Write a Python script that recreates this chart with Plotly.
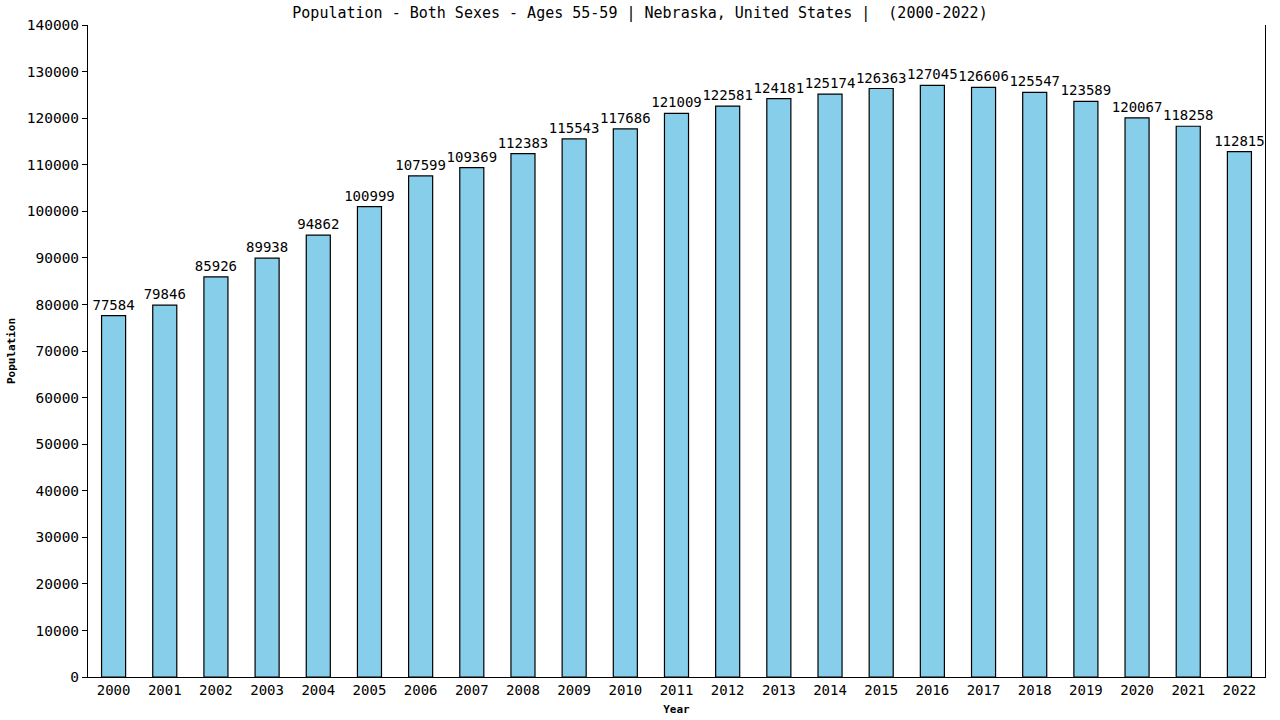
import plotly.graph_objects as go

years = [str(y) for y in range(2000, 2023)]
population = [77584, 79846, 85926, 89938, 94862, 100999, 107599, 109369, 112383, 115543,
              117686, 121009, 122581, 124181, 125174, 126363, 127045, 126606, 125547, 123589,
              120067, 118258, 112815]
y_ticks = list(range(0, 140001, 10000))

FONT = "DejaVu Sans Mono"

fig = go.Figure(go.Bar(
    x=years, y=population,
    marker=dict(color="#87CEEB", line=dict(color="#000000", width=1.2)),
    width=0.47,
    text=[str(v) for v in population],
    textposition="outside",
    constraintext="none",
    textfont=dict(family=FONT, size=14, color="#000000"),
    cliponaxis=False,
))

fig.update_layout(
    width=1280, height=720,
    margin=dict(l=88, r=15, t=25, b=43, autoexpand=False),
    paper_bgcolor="white", plot_bgcolor="white",
    showlegend=False,
    title=dict(text="Population - Both Sexes - Ages 55-59 | Nebraska, United States |  (2000-2022)",
               x=0.5, xanchor="center", y=0.982, yanchor="middle",
               font=dict(family=FONT, size=15, color="#000000")),
    xaxis=dict(
        type="category", range=[-0.5, 22.5], automargin=False,
        showline=True, linecolor="#000000", linewidth=1,
        ticks="", tickfont=dict(family=FONT, size=14, color="#000000"),
        title=dict(text="<b>Year</b>", font=dict(family=FONT, size=11, color="#000000"), standoff=8),
        showgrid=False,
    ),
    yaxis=dict(
        range=[0, 140000], tickvals=y_ticks, ticktext=[str(v) for v in y_ticks],
        automargin=False,
        showline=True, mirror=True, linecolor="#000000", linewidth=1,
        ticks="outside", ticklen=5, tickcolor="#000000",
        tickfont=dict(family=FONT, size=14.5, color="#000000"),
        title=dict(text="<b>Population</b>", font=dict(family=FONT, size=11, color="#000000"), standoff=8),
        showgrid=False, zeroline=False,
    ),
)

fig.write_html("out.html")
